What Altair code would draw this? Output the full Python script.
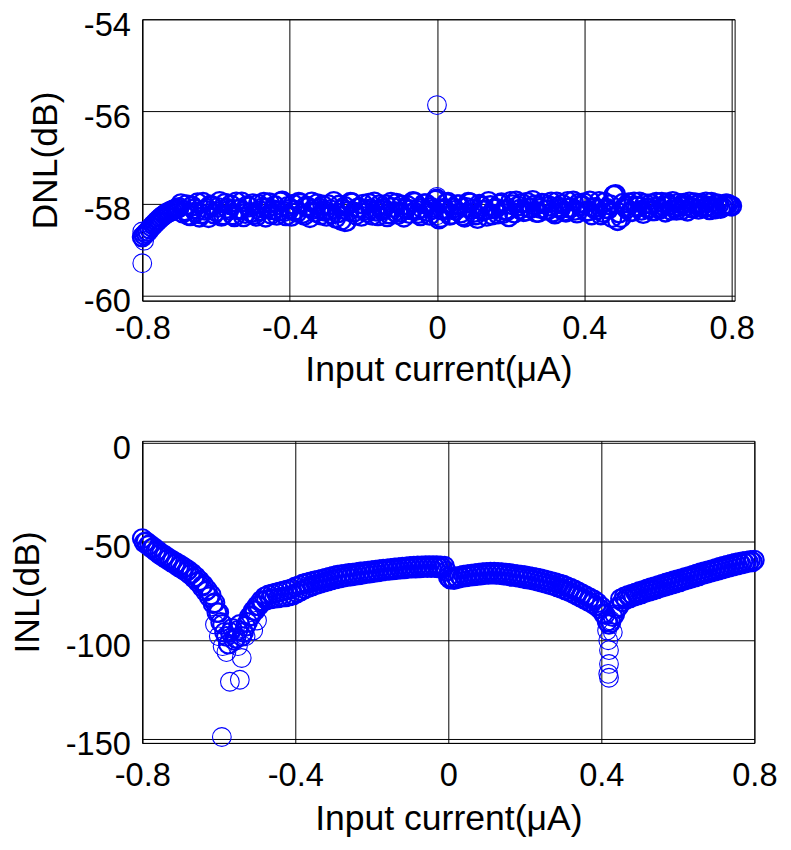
import altair as alt
import pandas as pd

# ---------------- data ----------------
current_grid = [i / 100 for i in range(-80, 81)]                # input current, uA
current_grid_mid = [(2 * i + 1) / 200 for i in range(-80, 80)]  # in-between samples

dnl_values = [
    -58.72, -58.64, -58.55, -58.46, -58.38, -58.30, -58.24, -58.19, -58.15, -58.12,
    -58.08, -58.20, -58.02, -58.26, -58.11, -57.98, -58.22, -58.14, -58.30, -58.05,
    -58.17, -57.95, -58.24, -58.10, -58.02, -58.28, -58.13, -57.96, -58.21, -58.07,
    -58.00, -58.27, -58.15, -57.97, -58.09, -58.23, -58.04, -58.16, -57.94, -58.26,
    -58.12, -58.01, -58.19, -57.99, -58.25, -58.08, -57.96, -58.18, -58.10, -58.03,
    -58.27, -58.13, -57.95, -58.20, -58.36, -58.06, -58.16, -57.98, -58.24, -58.09,
    -58.01, -58.19, -58.11, -57.96, -58.26, -58.14, -58.02, -58.22, -58.08, -57.99,
    -58.18, -58.29, -58.04, -58.13, -57.97, -58.21, -58.10, -58.00, -58.25, -58.12,
    -57.90, -58.30, -58.10, -57.97, -58.23, -58.14, -58.02, -58.26, -58.08, -57.98,
    -58.19, -58.32, -58.05, -58.13, -57.95, -58.24, -58.10, -58.01, -58.21, -58.15,
    -57.95, -58.20, -58.05, -57.99, -58.16, -58.08, -57.93, -58.19, -58.10, -58.00,
    -58.14, -57.96, -58.22, -58.07, -58.01, -58.18, -58.09, -57.94, -58.20, -58.04,
    -57.98, -58.15, -58.24, -58.08, -57.95, -58.19, -58.10, -58.02, -57.82, -58.36,
    -58.30, -58.06, -57.98, -58.17, -58.05, -57.96, -58.21, -58.09, -58.00, -58.15,
    -58.07, -57.97, -58.18, -58.03, -57.95, -58.14, -58.06, -57.99, -58.16, -58.08,
    -57.98, -58.12, -58.04, -57.96, -58.13, -58.07, -58.00, -58.10, -58.03, -58.01,
    -58.05,
]
dnl_values_mid = [
    -58.68, -58.60, -58.50, -58.42, -58.34, -58.27, -58.21, -58.17, -58.13, -58.10,
    -58.00, -58.15, -58.25, -58.05, -58.18, -58.29, -57.97, -58.10, -58.03, -58.22,
    -58.08, -58.27, -57.99, -58.14, -58.24, -57.96, -58.11, -58.28, -58.04, -58.19,
    -58.23, -58.01, -58.09, -58.29, -57.98, -58.13, -58.25, -57.96, -58.17, -58.06,
    -58.27, -58.14, -57.97, -58.21, -58.05, -58.30, -58.12, -58.00, -58.24, -58.16,
    -58.02, -58.22, -58.31, -58.03, -58.12, -58.38, -57.97, -58.18, -58.09, -58.27,
    -58.14, -57.99, -58.25, -58.16, -58.02, -58.10, -58.28, -57.97, -58.17, -58.23,
    -58.03, -58.11, -58.21, -57.95, -58.14, -58.26, -58.00, -58.17, -58.08, -57.92,
    -58.33, -58.14, -57.99, -58.25, -58.09, -58.02, -58.20, -58.29, -57.97, -58.12,
    -58.24, -58.01, -58.15, -58.27, -58.04, -58.11, -58.22, -57.98, -58.13, -58.28,
    -58.02, -57.94, -58.12, -58.17, -57.97, -58.10, -58.03, -58.19, -57.99, -58.13,
    -58.05, -58.18, -57.96, -58.11, -58.16, -57.95, -58.08, -58.14, -57.99, -58.04,
    -58.17, -57.94, -58.09, -58.13, -58.24, -57.97, -58.12, -58.30, -57.80, -58.20,
    -57.99, -58.11, -58.17, -57.96, -58.07, -58.14, -58.00, -58.10, -58.15, -57.97,
    -58.12, -58.05, -57.98, -58.14, -58.08, -57.99, -58.13, -58.04, -57.96, -58.10,
    -58.03, -57.99, -58.09, -58.05, -57.97, -58.11, -58.02, -58.07, -58.00, -58.04,
]
dnl_extra_x = [-0.80, -0.80, -0.795, 0.0, -0.25, 0.49, 0.48, 0.0, 0.0]
dnl_extra_y = [-59.29, -58.60, -58.80, -55.86, -58.40, -58.38, -57.80, -58.25, -57.85]

inl_values = [
    -48.5, -50.0, -51.5, -53.0, -54.5, -56.0, -57.2, -58.5, -59.7, -60.8,
    -62.0, -63.2, -64.5, -66.0, -67.8, -69.8, -72.0, -74.5, -77.0, -81.0,
    -86.0, -92.0, -98.0, -96.0, -100.0, -95.0, -98.0, -93.0, -88.0, -85.0,
    -82.5, -80.0, -78.0, -77.0, -76.5, -76.0, -75.5, -75.0, -74.5, -74.0,
    -73.0, -72.3, -71.5, -71.0, -70.5, -70.0, -69.5, -69.0, -68.5, -68.0,
    -67.5, -67.0, -66.8, -66.5, -66.2, -66.0, -65.7, -65.4, -65.2, -65.0,
    -64.8, -64.5, -64.2, -64.0, -63.8, -63.6, -63.4, -63.2, -63.0, -62.8,
    -62.6, -62.5, -62.4, -62.3, -62.2, -62.2, -62.2, -62.2, -62.3, -62.5,
    -68.0, -68.5, -68.0, -67.5, -67.0, -66.8, -66.5, -66.3, -66.0, -65.8,
    -65.6, -65.5, -65.5, -65.6, -65.8, -66.0, -66.2, -66.5, -66.8, -67.0,
    -67.3, -67.6, -68.0, -68.4, -68.8, -69.3, -69.8, -70.3, -70.8, -71.4,
    -72.0, -72.8, -73.6, -74.5, -75.5, -76.5, -77.5, -78.5, -79.5, -81.0,
    -83.0, -87.0, -92.0, -88.0, -84.0, -79.0, -78.0, -77.3, -76.6, -76.0,
    -75.3, -74.7, -74.0, -73.4, -72.8, -72.2, -71.6, -71.0, -70.4, -69.8,
    -69.3, -68.8, -68.2, -67.6, -67.0, -66.4, -65.8, -65.2, -64.7, -64.2,
    -63.6, -63.0, -62.5, -62.0, -61.5, -61.0, -60.6, -60.2, -59.9, -59.6,
    -59.4,
]
inl_values_mid = [
    -50.5, -52.0, -53.5, -55.0, -56.5, -57.8, -59.0, -60.3, -61.5, -62.8,
    -64.0, -65.3, -66.8, -68.5, -70.5, -72.8, -75.3, -78.0, -81.5, -86.0,
    -91.0, -96.0, -102.0, -94.0, -99.0, -92.0, -96.0, -91.0, -87.5, -85.0,
    -82.5, -80.5, -79.5, -79.0, -78.8, -78.5, -78.2, -78.0, -77.5, -77.0,
    -76.0, -75.0, -74.0, -73.2, -72.5, -71.8, -71.2, -70.6, -70.0, -69.4,
    -68.9, -68.5, -68.1, -67.8, -67.5, -67.2, -66.9, -66.6, -66.3, -66.0,
    -65.7, -65.4, -65.1, -64.8, -64.6, -64.4, -64.2, -64.0, -63.8, -63.6,
    -63.5, -63.4, -63.3, -63.2, -63.2, -63.2, -63.2, -63.3, -63.5, -65.0,
    -69.0, -69.3, -68.8, -68.3, -67.9, -67.6, -67.4, -67.2, -67.0, -66.8,
    -66.6, -66.5, -66.6, -66.8, -67.0, -67.3, -67.6, -67.9, -68.2, -68.5,
    -68.9, -69.3, -69.7, -70.2, -70.7, -71.2, -71.8, -72.4, -73.0, -73.7,
    -74.5, -75.3, -76.2, -77.2, -78.2, -79.2, -80.2, -81.2, -82.5, -84.0,
    -86.5, -90.5, -91.0, -87.0, -83.0, -80.5, -79.3, -78.5, -77.8, -77.1,
    -76.5, -75.8, -75.2, -74.6, -74.0, -73.4, -72.8, -72.2, -71.6, -71.0,
    -70.4, -69.8, -69.2, -68.6, -68.0, -67.4, -66.8, -66.2, -65.6, -65.1,
    -64.6, -64.0, -63.4, -62.9, -62.4, -61.9, -61.4, -61.0, -60.6, -60.3,
]
inl_extra_x = [-0.592, -0.571, -0.545, -0.54, -0.61, -0.60, -0.59, -0.58,
               -0.55, -0.53, -0.51, -0.50,
               0.415, 0.418, 0.42, 0.42, 0.418, 0.42, 0.43, 0.425]
inl_extra_y = [-149.0, -121.0, -120.0, -109.0, -92.0, -98.0, -103.0, -106.0,
               -103.0, -98.0, -95.0, -90.0,
               -95.0, -100.0, -105.0, -112.0, -117.0, -119.0, -96.0, -90.0]

x_ticks = [-0.8, -0.4, 0, 0.4, 0.8]
dnl_ticks = [-60, -58, -56, -54]
inl_ticks = [-150, -100, -50, 0]

# ---------------- chart ----------------
FONT = "Liberation Sans"
BLUE = "#0000FF"
LABEL_EXPR = "datum.value < 0 ? '-' + format(-datum.value, '~g') : format(datum.value, '~g')"


def make_df(main, mid, ex_x, ex_y):
    return pd.DataFrame({
        "x": current_grid + current_grid_mid + ex_x,
        "y": main + mid + ex_y,
        "kind": ["dense"] * (len(main) + len(mid)) + ["single"] * len(ex_x),
    })


dnl_df = make_df(dnl_values, dnl_values_mid, dnl_extra_x, dnl_extra_y)
inl_df = make_df(inl_values, inl_values_mid, inl_extra_x, inl_extra_y)


def panel(df, ytitle, ydomain, yticks, xdomain, w, h, xlabpad, xtitlepad, ytitlepad, sw):
    base = alt.Chart(df).encode(
        x=alt.X("x:Q",
                scale=alt.Scale(domain=xdomain, nice=False, zero=False),
                axis=alt.Axis(values=x_ticks, labelExpr=LABEL_EXPR,
                              labelFlush=False,
                              title="Input current(μA)",
                              labelPadding=xlabpad, titlePadding=xtitlepad)),
        y=alt.Y("y:Q",
                scale=alt.Scale(domain=ydomain, nice=False, zero=False),
                axis=alt.Axis(values=yticks, labelExpr=LABEL_EXPR, title=ytitle,
                              labelFlush=False,
                              labelPadding=12, labelOffset=6,
                              titlePadding=ytitlepad)),
    )
    dense = base.transform_filter(alt.datum.kind == "dense").mark_point(
        shape="circle", filled=False, color=BLUE, size=360, strokeWidth=sw,
        opacity=1, clip=False,
    )
    single = base.transform_filter(alt.datum.kind == "single").mark_point(
        shape="circle", filled=False, color=BLUE, size=360, strokeWidth=1.1,
        opacity=1, clip=False,
    )
    return alt.layer(dense, single).properties(width=w, height=h)


top = panel(dnl_df, "DNL(dB)", [-60.1, -54], dnl_ticks, [-0.8, 0.808],
            600, 285, 12, 8, 19, 2.4)
bottom = panel(inl_df, "INL(dB)", [-152, 1], inl_ticks, [-0.8, 0.8],
               620, 306, 17, 10, 19, 2.1)

chart = alt.vconcat(top, bottom, spacing=44).properties(
    padding={"left": 1, "top": -5, "right": 5, "bottom": 5}
).configure(
    font=FONT,
    background="white",
).configure_axis(
    labelFont=FONT, titleFont=FONT,
    labelFontSize=33, titleFontSize=36,
    labelColor="black", titleColor="black",
    titleFontWeight="normal",
    grid=True, gridColor="black", gridOpacity=1, gridWidth=1,
    domainColor="black", domainWidth=1,
    ticks=False,
).configure_view(
    stroke="black", strokeWidth=1,
)

chart.save("out.html", embed_options={"renderer": "svg", "actions": False})
